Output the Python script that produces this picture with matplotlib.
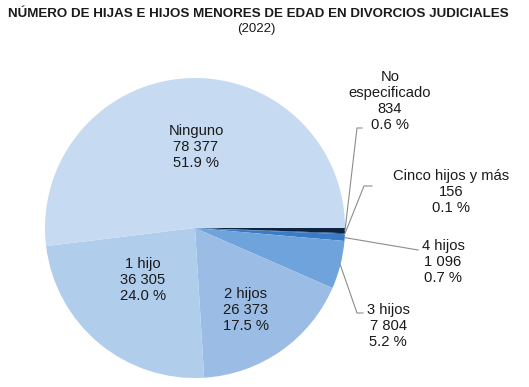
import matplotlib.pyplot as plt
import numpy as np

plt.rcParams['font.family'] = ['Liberation Sans', 'DejaVu Sans']

# datos
categorias = ['No\nespecificado', 'Cinco hijos y más', '4 hijos', '3 hijos',
              '2 hijos', '1 hijo', 'Ninguno']
valores = [834, 156, 1096, 7804, 26373, 36305, 78377]
porcentajes = [0.6, 0.1, 0.7, 5.2, 17.5, 24.0, 51.9]
colores = ['#0c2341', '#1f4f8f', '#3b7bc6', '#6ea3dc', '#9bbde5', '#b1cdec', '#c6dbf1']

def fmt(v):
    return f'{v:,}'.replace(',', ' ')

fig = plt.figure(figsize=(5.29, 3.87), dpi=100)
ax = fig.add_axes([0, 0, 1, 1])
H = 387
cx, cy, r = 195, H - 228, 150

wedges, _ = ax.pie(valores, colors=colores, startangle=0, counterclock=False,
                   center=(cx, cy), radius=r, frame=True,
                   wedgeprops=dict(linewidth=0))
ax.set_xlim(0, 529)
ax.set_ylim(0, H)
ax.axis('off')

etiquetas = [f'{c}\n{fmt(v)}\n{p:.1f} %' for c, v, p in zip(categorias, valores, porcentajes)]
fs = 10.6

# etiquetas dentro
dentro = {6: (196, 147), 5: (143, 280), 4: (246, 310)}
for i, (x, y) in dentro.items():
    ax.text(x, H - y, etiquetas[i], ha='center', va='center', fontsize=fs,
            linespacing=1.2, color='#1a1a1a')

# etiquetas fuera con lineas guia: (punto de quiebre, fin, texto)
fuera = {
    0: ((357, 128), (362, 128), (390, 101)),
    1: ((364, 186), (372, 186), (451, 192)),
    2: ((418, 250), (418, 250), (443, 262)),
    3: ((357, 313), (363, 313), (388, 326)),
}
for i, (quiebre, fin, txt) in fuera.items():
    w = wedges[i]
    ang = np.deg2rad((w.theta1 + w.theta2) / 2)
    x0, y0 = cx + r * np.cos(ang), cy + r * np.sin(ang)
    ax.plot([x0, quiebre[0], fin[0]], [y0, H - quiebre[1], H - fin[1]],
            color='#8c8c8c', lw=0.8)
    ax.text(txt[0], H - txt[1], etiquetas[i], ha='center', va='center',
            fontsize=fs, linespacing=1.2, color='#1a1a1a')

ax.text(258, H - 14, 'NÚMERO DE HIJAS E HIJOS MENORES DE EDAD EN DIVORCIOS JUDICIALES',
        ha='center', va='center', fontsize=9.65, fontweight='bold', color='#1a1a1a')
ax.text(256, H - 29, '(2022)', ha='center', va='center', fontsize=9.5, color='#1a1a1a')

fig.savefig('out.png', dpi=100)
